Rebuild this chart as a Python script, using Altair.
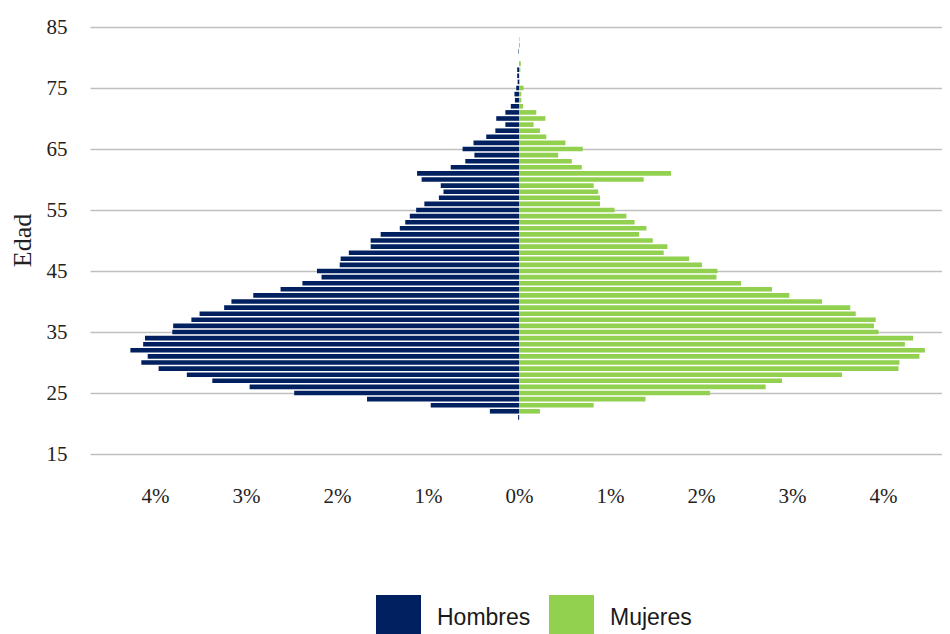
import altair as alt
import pandas as pd

edades = list(range(21, 84))

hombres = [0.01, 0.32, 0.97, 1.67, 2.47, 2.96, 3.37, 3.65, 3.96, 4.15,
           4.08, 4.27, 4.13, 4.11, 3.81, 3.80, 3.60, 3.51, 3.24, 3.16,
           2.92, 2.62, 2.38, 2.17, 2.22, 1.97, 1.96, 1.87, 1.63, 1.63,
           1.52, 1.31, 1.25, 1.20, 1.13, 1.04, 0.88, 0.83, 0.86, 1.07,
           1.12, 0.75, 0.59, 0.49, 0.62, 0.50, 0.36, 0.26, 0.15, 0.25,
           0.15, 0.09, 0.045, 0.05, 0.03, 0.015, 0.02, 0.02, 0.0, 0.0,
           0.005, 0.0, 0.0]

mujeres = [0.005, 0.23, 0.82, 1.39, 2.10, 2.71, 2.89, 3.55, 4.17, 4.18,
           4.40, 4.46, 4.24, 4.33, 3.95, 3.90, 3.92, 3.70, 3.64, 3.33,
           2.97, 2.78, 2.44, 2.17, 2.18, 2.01, 1.87, 1.59, 1.63, 1.47,
           1.32, 1.40, 1.27, 1.18, 1.05, 0.89, 0.89, 0.87, 0.82, 1.37,
           1.67, 0.69, 0.58, 0.43, 0.70, 0.51, 0.30, 0.23, 0.16, 0.29,
           0.19, 0.045, 0.025, 0.025, 0.05, 0.01, 0.005, 0.015, 0.02, 0.0,
           0.0, 0.01, 0.005]

series = ["Hombres", "Mujeres"]
colores = ["#002060", "#92D050"]
y_ticks = [15, 25, 35, 45, 55, 65, 75, 85]
x_ticks = [-4, -3, -2, -1, 0, 1, 2, 3, 4]

rows = []
for e, h, m in zip(edades, hombres, mujeres):
    rows.append({"Edad": e, "Sexo": "Hombres", "Valor": -h})
    rows.append({"Edad": e, "Sexo": "Mujeres", "Valor": m})
df = pd.DataFrame(rows)

chart = alt.Chart(df).mark_bar(orient="horizontal", size=4.6).encode(
    x=alt.X("Valor:Q",
            scale=alt.Scale(domain=[-4.714, 4.648], nice=False, zero=False),
            axis=alt.Axis(values=x_ticks, labelExpr="abs(datum.value) + '%'",
                          grid=False, domain=False, ticks=False,
                          labelFont="Liberation Serif", labelFontSize=21,
                          labelColor="#222222", labelPadding=42,
                          labelBaseline="middle", title=None)),
    y=alt.Y("Edad:Q",
            scale=alt.Scale(domain=[15, 85], nice=False, zero=False, padding=0),
            axis=alt.Axis(values=y_ticks, grid=True, gridColor="#c0c0c0",
                          gridWidth=1.6, domain=False, ticks=False,
                          labelFont="Liberation Serif", labelFontSize=21,
                          labelColor="#222222", labelPadding=23,
                          title="Edad", titleFont="Liberation Serif",
                          titleFontSize=26, titleFontWeight="normal",
                          titleColor="#222222", titleX=-68, titleY=213,
                          titleAngle=-90, titleBaseline="middle",
                          titleAlign="center")),
    color=alt.Color("Sexo:N",
                    scale=alt.Scale(domain=series, range=colores),
                    legend=alt.Legend(title=None, orient="none",
                                      direction="horizontal",
                                      legendX=286, legendY=568,
                                      symbolType="square", symbolSize=2025,
                                      symbolStrokeWidth=0, symbolOpacity=1,
                                      labelFont="Liberation Sans",
                                      labelFontSize=23, labelColor="#1a1a1a",
                                      labelOffset=16, columnPadding=18,
                                      padding=0)),
).properties(
    width=852,
    height=427,
    autosize=alt.AutoSizeParams(type="none"),
    padding={"left": 82, "top": 19, "right": 0, "bottom": 180},
).configure_view(stroke=None)

chart.save("out.html", embed_options={"renderer": "svg", "actions": False})
